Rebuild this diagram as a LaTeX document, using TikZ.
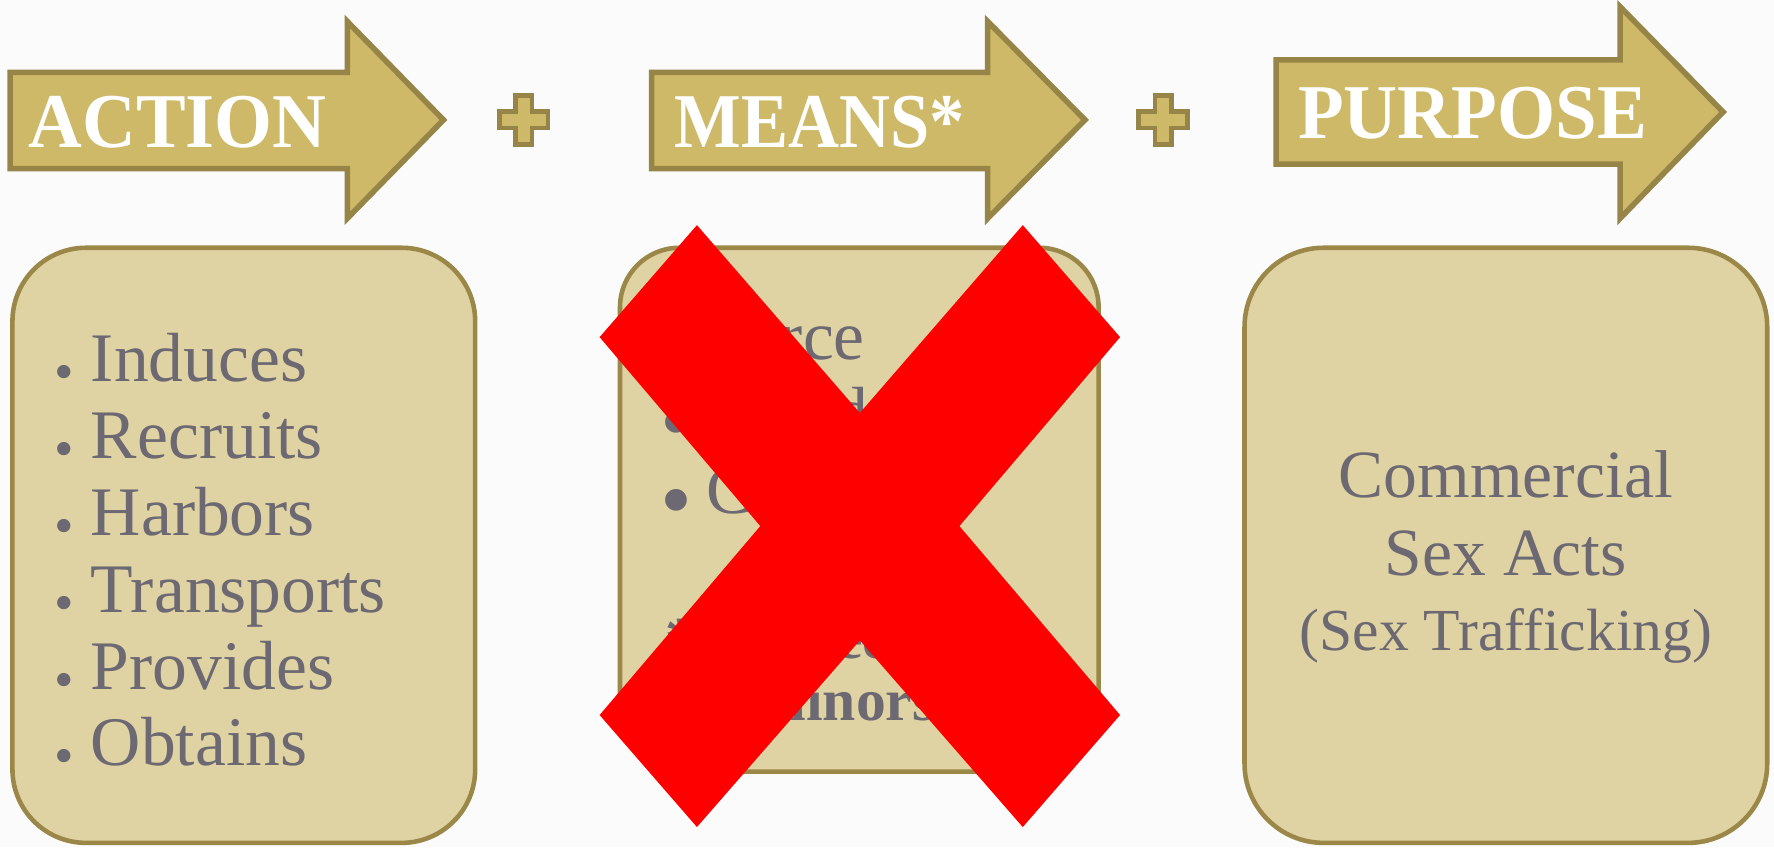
\documentclass[tikz,border=0pt]{standalone}
\usepackage{fontspec}
\setmainfont{Liberation Serif}
\definecolor{arrowfill}{HTML}{CDB967}
\definecolor{arrowedge}{HTML}{978547}
\definecolor{boxfill}{HTML}{E0D3A3}
\definecolor{boxedge}{HTML}{9B8848}
\definecolor{txt}{HTML}{6C6973}
\definecolor{bgc}{HTML}{FBFBFB}
\definecolor{xred}{HTML}{FF0000}
\tikzset{
  arrowshape/.style={fill=arrowfill, draw=arrowedge, line width=2.8pt, line join=miter},
  plusshape/.style={fill=arrowfill, draw=arrowedge, line width=2.2pt},
  boxshape/.style={fill=boxfill, draw=boxedge, line width=2.3pt},
  head/.style={anchor=base west, inner sep=0pt, text=white, font=\fontsize{39}{42}\selectfont\bfseries},
  lst/.style={anchor=base west, inner sep=0pt, text=txt, font=\fontsize{35}{38}\selectfont},
  lbul/.style={anchor=base, inner sep=0pt, text=txt, font=\fontsize{28}{28}\selectfont},
  mbul/.style={anchor=base, inner sep=0pt, text=txt, font=\fontsize{35}{35}\selectfont},
  note/.style={anchor=base west, inner sep=0pt, text=txt, font=\fontsize{30}{32}\selectfont\bfseries},
  ctr/.style={anchor=base, inner sep=0pt, text=txt, font=\fontsize{34}{38}\selectfont},
  ctrs/.style={anchor=base, inner sep=0pt, text=txt, font=\fontsize{30}{32}\selectfont},
  plussign/.pic={\path[plusshape] (-7.4,-21.6) -- (7.4,-21.6) -- (7.4,-7.4) -- (21.6,-7.4) -- (21.6,7.4) -- (7.4,7.4) -- (7.4,21.6) -- (-7.4,21.6) -- (-7.4,7.4) -- (-21.6,7.4) -- (-21.6,-7.4) -- (-7.4,-7.4) -- cycle;}
}
\newcommand{\bul}{\makebox[0.3em][c]{\smash{\textbullet}}}
\newcommand{\bigbul}{\makebox[0.39em][c]{\smash{\scalebox{1.31}{\textbullet}}}}
\begin{document}
\begin{tikzpicture}[x=0.02cm,y=-0.02cm]
\fill[bgc] (0,0) rectangle (1568,749);
\useasboundingbox (0,0) rectangle (1568,749);

% arrows
\path[arrowshape] (9,64) -- (307,64) -- (307,19) -- (392,106) -- (307,193) -- (307,149) -- (9,149) -- cycle;
\path[arrowshape] (576,64) -- (873,64) -- (873,19) -- (959,106) -- (873,193) -- (873,149) -- (576,149) -- cycle;
\path[arrowshape] (1128,53) -- (1432,53) -- (1432,6) -- (1523,99) -- (1432,193) -- (1432,145) -- (1128,145) -- cycle;
\node[head] (action) at (25,130) {\scalebox{0.96}[1]{ACTION}};
\node[head] (means) at (596,130) {\scalebox{0.91}[1]{MEANS*}};
\node[head] (purpose) at (1147,122) {\scalebox{0.965}[1]{PURPOSE}};

% plus signs
\pic at (463,106) {plussign};
\pic at (1028,106) {plussign};

% boxes
\path[boxshape, rounded corners=1.3cm] (11,219) rectangle (420,745);
\path[boxshape, rounded corners=1.05cm] (548,219) rectangle (971,682);
\path[boxshape, rounded corners=1.4cm] (1100,219) rectangle (1562,745);

% left list
\node[lbul] (b1) at (57,345) {\bul};
\node[lst] (l1) at (80,337) {Induces};
\node[lbul] (b2) at (57,413) {\bul};
\node[lst] (l2) at (80,405) {Recruits};
\node[lbul] (b3) at (57,481) {\bul};
\node[lst] (l3) at (80,473) {Harbors};
\node[lbul] (b4) at (57,549) {\bul};
\node[lst] (l4) at (80,541) {Transports};
\node[lbul] (b5) at (57,617) {\bul};
\node[lst] (l5) at (80,609) {Provides};
\node[lbul] (b6) at (57,685) {\bul};
\node[lst] (l6) at (80,677) {Obtains};

% middle list
\node[mbul] (m1b) at (598,333) {\bigbul};
\node[lst] (m1) at (624,318) {Force};
\node[mbul] (m2b) at (598,400) {\bigbul};
\node[lst] (m2) at (624,385) {Fraud};
\node[mbul] (m3b) at (598,469) {\bigbul};
\node[lst] (m3) at (624,454) {Coercion};
\node[note] (n1) at (588,582) {*Not needed};
\node[note] (n2) at (588,637) {for minors};

% right box
\node[ctr] (r1) at (1331,440) {Commercial};
\node[ctr] (r2) at (1331,509) {Sex Acts};
\node[ctrs] (r3) at (1331,575) {(Sex Trafficking)};

% red cross
\fill[xred] (616,199) -- (760,365) -- (904,199) -- (990,298) -- (848,465) -- (990,632) -- (904,731) -- (760,566) -- (616,731) -- (530,632) -- (672,465) -- (530,298) -- cycle;
\end{tikzpicture}
\end{document}
